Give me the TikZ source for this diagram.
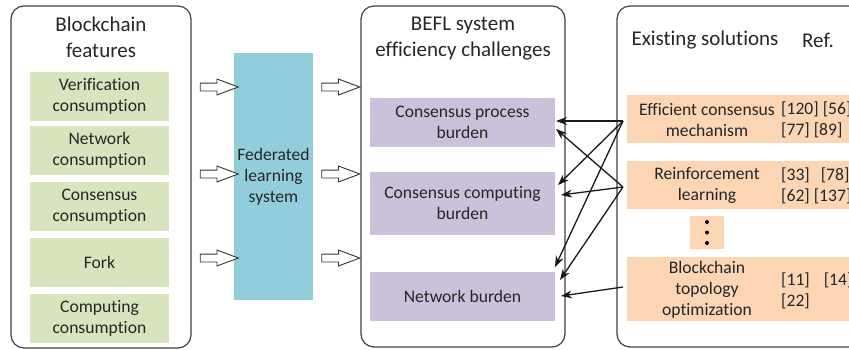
\documentclass[tikz,border=0pt]{standalone}
\usepackage{fontspec}
\setmainfont[Ligatures=NoCommon]{Carlito}
\usetikzlibrary{arrows.meta,shapes.arrows}

\definecolor{featgreen}{HTML}{D7E4BD}
\definecolor{flblue}{HTML}{92CDDC}
\definecolor{chalpurple}{HTML}{CCC1DA}
\definecolor{solorange}{HTML}{FCD5B5}

\begin{document}
\begin{tikzpicture}[x=1pt,y=-1pt,
		txt/.style={font=\fontsize{17.6}{21}\selectfont,text=black!85,align=center},
		ttl/.style={font=\fontsize{21}{26}\selectfont,text=black!85,align=center},
		panel/.style={draw=black!75,line width=1.2pt,rounded corners=13pt},
		featbox/.style={txt,fill=featgreen,minimum width=139pt,minimum height=49pt,inner sep=0pt},
		chalbox/.style={txt,fill=chalpurple,minimum width=185pt,inner sep=0pt},
		solbox/.style={txt,fill=solorange,inner sep=0pt},
		refs/.style={txt,align=left,anchor=west,inner sep=0pt},
		hollow/.style={single arrow,draw=black!80,fill=white,line width=0.9pt,minimum height=38pt,
			inner sep=3.5pt,single arrow head extend=4pt,single arrow tip angle=41},
		link/.style={-{Stealth[length=11pt,width=8pt]},line width=1.3pt,black!90}]
	\clip (0,0) rectangle (849,349);

	% three panels
	\draw[panel] (11,6) rectangle (191,348);
	\draw[panel] (361,6) rectangle (565,347);
	\draw[panel] (617,6) rectangle (880,347);

	% blockchain features
	\node[ttl] (featttl) at (101,37) {Blockchain\\features};
	\node[featbox] (verif) at (99.5,96.5)  {Verification\\consumption};
	\node[featbox] (netw)  at (99.5,150.5) {Network\\consumption};
	\node[featbox] (cons)  at (99.5,206.5) {Consensus\\consumption};
	\node[featbox] (fork)  at (99.5,262.5) {Fork};
	\node[featbox] (comp)  at (99.5,318.5) {Computing\\consumption};

	% federated learning
	\node[txt,fill=flblue,minimum width=79pt,minimum height=247pt,inner sep=0pt] (fls) at (273.5,176.5) {Federated\\learning\\system};
	\foreach \y [count=\i] in {87,174,258}{
		\node[hollow] (inA\i) at (214,\y) {};
		\node[hollow] (outA\i) at (335.5,\y) {};
	}

	% challenges
	\node[ttl] (chalttl) at (463,39) {BEFL system\\efficiency challenges};
	\node[chalbox,minimum height=49pt] (cproc) at (462.5,122.5) {Consensus process\\burden};
	\node[chalbox,minimum height=63pt] (ccomp) at (462.5,203.5) {Consensus computing\\burden};
	\node[chalbox,minimum height=49pt] (nburd) at (462.5,296.5) {Network burden};

	% existing solutions
	\node[ttl] (solttl) at (705,40) {Existing solutions};
	\node[ttl] (refttl) at (818,40) {Ref.};
	\node[solbox,minimum width=233pt,minimum height=48pt] (effbg) at (743.5,119) {};
	\node[solbox,minimum width=233pt,minimum height=48pt] (rlbg)  at (743.5,185) {};
	\node[solbox,minimum width=233pt,minimum height=64pt] (topobg) at (743.5,289) {};
	\node[solbox,minimum width=34pt,minimum height=33pt] (dots) at (707,232.5) {};
	\foreach \y in {222,232.5,243} \fill[black] (707,\y) circle (2);
	\node[txt] (eff)  at (707,120) {Efficient consensus\\mechanism};
	\node[txt] (rl)   at (707,185.5) {Reinforcement\\learning};
	\node[txt] (topo) at (707,289.5) {Blockchain\\topology\\optimization};
	\node[refs] (effref)  at (781,120) {[120] [56]\\{}[77] [89]};
	\node[refs] (rlref)   at (781,185.5) {[33]\hspace{7pt} [78]\\{}[62] [137]};
	\node[refs] (toporef) at (781,291) {[11]\hspace{10pt} [14]\\{}[22]};

	% links from solutions to challenges
	\coordinate (s1) at (623,121);
	\coordinate (s2) at (623,187);
	\coordinate (s3) at (623,287);
	\draw[link] (s1) -- (556,121);
	\draw[link] (s1) -- (558,185);
	\draw[link] (s1) -- (555,267);
	\draw[link] (s2) -- (556,129);
	\draw[link] (s2) -- (561,195);
	\draw[link] (s2) -- (560,280);
	\draw[link] (s3) -- (561,296);
\end{tikzpicture}
\end{document}
